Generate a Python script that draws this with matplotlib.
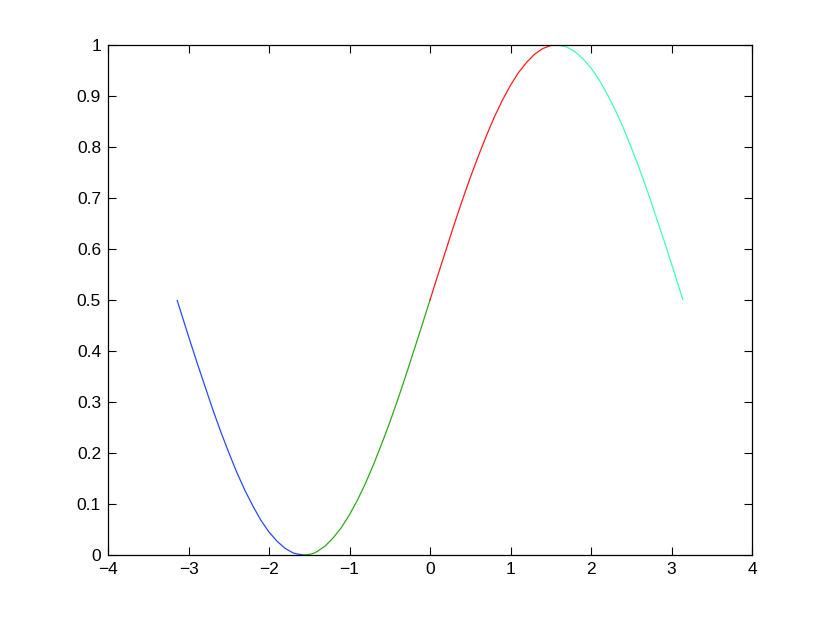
import matplotlib
matplotlib.use("Agg")
import matplotlib.pyplot as plt

# values, one array per coloured piece
x_blue = [-3.14, -3.0, -2.9, -2.8, -2.7, -2.6, -2.5, -2.4, -2.3, -2.2, -2.1, -2.0, -1.9, -1.8, -1.7, -1.65, -1.57]
y_blue = [0.499, 0.429, 0.380, 0.333, 0.286, 0.242, 0.201, 0.162, 0.127, 0.096, 0.068, 0.045, 0.027, 0.013, 0.004, 0.002, 0.000]

x_green = [-1.57, -1.5, -1.45, -1.4, -1.3, -1.2, -1.1, -1.0, -0.9, -0.8, -0.7, -0.6, -0.5, -0.4, -0.3, -0.2, -0.1, 0.0]
y_green = [0.000, 0.001, 0.003, 0.007, 0.018, 0.034, 0.054, 0.079, 0.108, 0.141, 0.178, 0.218, 0.260, 0.305, 0.352, 0.401, 0.450, 0.500]

x_red = [0.0, 0.1, 0.2, 0.3, 0.4, 0.5, 0.6, 0.7, 0.8, 0.9, 1.0, 1.1, 1.2, 1.3, 1.4, 1.45, 1.5, 1.57]
y_red = [0.500, 0.550, 0.599, 0.648, 0.695, 0.740, 0.782, 0.822, 0.859, 0.892, 0.921, 0.946, 0.966, 0.982, 0.993, 0.996, 0.999, 1.000]

x_cyan = [1.57, 1.65, 1.7, 1.8, 1.9, 2.0, 2.1, 2.2, 2.3, 2.4, 2.5, 2.6, 2.7, 2.8, 2.9, 3.0, 3.14]
y_cyan = [1.000, 0.998, 0.996, 0.987, 0.973, 0.955, 0.932, 0.904, 0.873, 0.838, 0.799, 0.758, 0.714, 0.667, 0.620, 0.571, 0.501]

x_ticks = [-4, -3, -2, -1, 0, 1, 2, 3, 4]
y_ticks = [0, 0.1, 0.2, 0.3, 0.4, 0.5, 0.6, 0.7, 0.8, 0.9, 1]
y_tick_labels = ["0", "0.1", "0.2", "0.3", "0.4", "0.5", "0.6", "0.7", "0.8", "0.9", "1"]

plt.rcParams["font.family"] = ["Liberation Sans", "DejaVu Sans"]

fig = plt.figure(figsize=(8.3, 6.24), dpi=100)
ax = fig.add_axes([108 / 830, 69 / 624, 644 / 830, 510 / 624])

ax.plot(x_blue, y_blue, color="#2a48ff", lw=0.9)
ax.plot(x_green, y_green, color="#2fa81a", lw=0.9)
ax.plot(x_red, y_red, color="#ff1a1a", lw=0.9)
ax.plot(x_cyan, y_cyan, color="#40ffb4", lw=0.9)

ax.set_xlim(-4, 4)
ax.set_ylim(0, 1)
ax.set_xticks(x_ticks)
ax.set_xticklabels([str(t).replace("-", "\u2212") for t in x_ticks])
ax.set_yticks(y_ticks)
ax.set_yticklabels(y_tick_labels)
ax.tick_params(direction="in", length=6, width=0.8, top=True, right=True,
               labelsize=12.5, pad=5)
for s in ax.spines.values():
    s.set_linewidth(0.9)

fig.savefig("out.png", dpi=100)
